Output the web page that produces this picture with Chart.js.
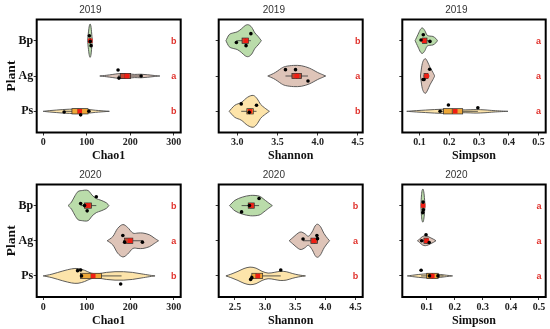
<!DOCTYPE html>
<html><head><meta charset="utf-8">
<script src="https://cdn.jsdelivr.net/npm/chart.js@4/dist/chart.umd.min.js"></script>
<style>
body{margin:0;background:#fff;width:550px;height:329px;overflow:hidden;position:relative}
canvas{position:absolute}
</style></head><body>
<canvas id="c1"></canvas><canvas id="c2"></canvas><canvas id="c3"></canvas>
<canvas id="c4"></canvas><canvas id="c5"></canvas><canvas id="c6"></canvas>
<script>
// ---------------- DATA ----------------
const plants = ['Bp', 'Ag', 'Ps'];
const years = ['2019', '2020'];
const metrics = ['Chao1', 'Shannon', 'Simpson'];

const chao1Ticks = [0, 100, 200, 300];
const shannon2019Ticks = [3.0, 3.5, 4.0, 4.5];
const shannon2020Ticks = [2.5, 3.0, 3.5, 4.0, 4.5];
const simpsonTicks = [0.1, 0.2, 0.3, 0.4, 0.5];

// violin density profiles: [value, half-width in category units]
const chao1_2019_violin = [
  [[102,0],[104,0.25],[106,0.42],[108,0.47],[110,0.38],[112,0.12],[113,0]],
  [[130,0],[145,0.02],[160,0.045],[172,0.065],[185,0.07],[198,0.06],[210,0.045],[225,0.05],[240,0.035],[255,0.015],[268,0]],
  [[0,0],[15,0.02],[30,0.035],[45,0.05],[60,0.06],[75,0.065],[90,0.06],[105,0.05],[120,0.03],[135,0.015],[152,0]]
];
const chao1_2019_box = [[106,107,108,109,110],[172,177,188,201,225],[48,66,80,103,105]];
const chao1_2019_mean = [108, 192, 84];
const chao1_2019_dots = [[106,110,108],[172,174,225],[48,86,105]];
const chao1_2019_letters = ['b','a','b'];

const chao1_2020_violin = [
  [[57,0],[65,0.1],[73,0.28],[80,0.40],[90,0.43],[100,0.44],[106,0.4],[112,0.3],[122,0.2],[133,0.15],[145,0.08],[151,0]],
  [[147,0],[160,0.12],[171,0.35],[183,0.46],[194,0.38],[206,0.22],[218,0.22],[229,0.22],[244,0.17],[255,0.08],[265,0]],
  [[0,0],[20,0.05],[45,0.14],[65,0.2],[80,0.21],[95,0.16],[110,0.08],[125,0.06],[145,0.1],[165,0.12],[185,0.12],[205,0.1],[225,0.06],[245,0.02],[257,0]]
];
const chao1_2020_box = [[86,95,101,111,122],[184,187,197,206,228],[86,86,110,134,180]];
const chao1_2020_mean = [103, 200, 115];
const chao1_2020_dots = [[86,122,101,95],[183,187,228],[79,86,88,178]];
const chao1_2020_letters = ['b','a','b'];

const shannon_2019_violin = [
  [[2.86,0],[2.90,0.17],[2.95,0.22],[3.00,0.25],[3.05,0.33],[3.10,0.43],[3.14,0.45],[3.18,0.38],[3.22,0.22],[3.26,0.12],[3.30,0]],
  [[3.38,0],[3.45,0.07],[3.5,0.14],[3.55,0.22],[3.6,0.27],[3.7,0.30],[3.8,0.29],[3.9,0.22],[4.0,0.1],[4.05,0.05],[4.1,0]],
  [[2.90,0],[2.97,0.17],[3.05,0.25],[3.13,0.4],[3.20,0.45],[3.25,0.35],[3.29,0.2],[3.34,0.1],[3.40,0]]
];
const shannon_2019_box = [[2.99,3.06,3.10,3.14,3.17],[3.60,3.68,3.74,3.80,3.88],[3.05,3.12,3.16,3.20,3.24]];
const shannon_2019_mean = [3.11, 3.74, 3.16];
const shannon_2019_dots = [[2.99,3.17,3.11],[3.60,3.725,3.88],[3.05,3.24,3.15]];
const shannon_2019_letters = ['b','a','b'];

const shannon_2020_violin = [
  [[2.41,0],[2.50,0.15],[2.62,0.24],[2.76,0.29],[2.90,0.27],[2.98,0.18],[3.04,0.1],[3.12,0]],
  [[3.40,0],[3.48,0.12],[3.55,0.22],[3.60,0.25],[3.66,0.2],[3.72,0.13],[3.78,0.25],[3.83,0.42],[3.87,0.47],[3.92,0.4],[3.98,0.2],[4.04,0.06],[4.07,0]],
  [[2.35,0],[2.45,0.06],[2.55,0.13],[2.65,0.21],[2.75,0.25],[2.85,0.22],[2.95,0.13],[3.05,0.08],[3.15,0.1],[3.25,0.13],[3.35,0.12],[3.45,0.07],[3.55,0.03],[3.67,0]]
];
const shannon_2020_box = [[2.61,2.72,2.76,2.82,2.90],[3.63,3.76,3.82,3.87,3.87],[2.76,2.78,2.85,2.96,3.26]];
const shannon_2020_mean = [2.77, 3.81, 2.88];
const shannon_2020_dots = [[2.61,2.90,2.74],[3.63,3.86,3.87],[3.26,2.76,2.78]];
const shannon_2020_letters = ['b','a','b'];

const simpson_2019_violin = [
  [[0.085,0],[0.095,0.18],[0.103,0.32],[0.11,0.36],[0.118,0.28],[0.125,0.16],[0.135,0.13],[0.145,0.12],[0.155,0.06],[0.16,0]],
  [[0.103,0],[0.108,0.3],[0.113,0.44],[0.12,0.49],[0.127,0.4],[0.135,0.25],[0.145,0.1],[0.151,0]],
  [[0.057,0],[0.09,0.02],[0.12,0.035],[0.15,0.05],[0.18,0.06],[0.21,0.05],[0.24,0.04],[0.27,0.045],[0.29,0.05],[0.32,0.04],[0.35,0.02],[0.397,0]]
];
const simpson_2019_box = [[0.105,0.11,0.115,0.125,0.135],[0.112,0.115,0.12,0.128,0.134],[0.169,0.18,0.21,0.245,0.296]];
const simpson_2019_mean = [0.115, 0.124, 0.22];
const simpson_2019_dots = [[0.1125,0.105,0.135],[0.134,0.115,0.112],[0.197,0.296,0.169]];
const simpson_2019_letters = ['a','a','a'];

const simpson_2020_violin = [
  [[0.079,0],[0.082,0.35],[0.085,0.46],[0.088,0.45],[0.091,0.3],[0.094,0]],
  [[0.067,0],[0.075,0.05],[0.085,0.12],[0.095,0.14],[0.105,0.12],[0.115,0.08],[0.125,0.04],[0.133,0]],
  [[0.031,0],[0.05,0.02],[0.07,0.04],[0.09,0.055],[0.11,0.06],[0.13,0.055],[0.15,0.04],[0.17,0.02],[0.192,0]]
];
const simpson_2020_box = [[0.085,0.086,0.087,0.088,0.089],[0.082,0.09,0.1,0.105,0.109],[0.08,0.1,0.12,0.141,0.16]];
const simpson_2020_mean = [0.087, 0.1, 0.12];
const simpson_2020_dots = [[0.087,0.088,0.086],[0.0975,0.082,0.109],[0.08,0.11,0.14]];
const simpson_2020_letters = ['a','a','a'];

// vertical jitter of the dots (layout, category units)
const jitter_c1 = [[-0.14,0.14,0.02],[-0.17,0.06,0.0],[0.02,0.1,0.0]];
const jitter_c4 = [[-0.06,-0.25,0.15,0.0],[-0.15,0.04,0.04],[-0.15,-0.17,0.0,0.23]];
const jitter_c2 = [[0.05,-0.2,0.14],[-0.18,-0.18,0.14],[-0.21,-0.17,0.03]];
const jitter_c5 = [[0.18,-0.2,0.0],[-0.05,-0.15,-0.06],[-0.17,0.1,0.05]];
const jitter_c3 = [[-0.17,-0.02,0.02],[-0.19,0.1,0.1],[-0.18,-0.1,0.0]];
const jitter_c6 = [[-0.1,0.12,0.2],[-0.17,0.0,0.05],[-0.16,0.0,0.0]];

// ---------------- STYLE ----------------
const violinFill = ['#badcaa', '#dec4b8', '#fde4aa'];
const boxFill = ['#d2452e', '#bf4630', '#eea737'];
const letterColor = '#e0302a';
const serif = '"Liberation Serif", "Times New Roman", serif';
const sans = '"Liberation Sans", Arial, sans-serif';

function splinePath(ctx, pts, first) {
  const n = pts.length;
  if (first) ctx.moveTo(pts[0][0], pts[0][1]); else ctx.lineTo(pts[0][0], pts[0][1]);
  for (let i = 0; i < n - 1; i++) {
    const p0 = pts[Math.max(i - 1, 0)], p1 = pts[i], p2 = pts[i + 1], p3 = pts[Math.min(i + 2, n - 1)];
    const c1x = p1[0] + (p2[0] - p0[0]) / 6, c1y = p1[1] + (p2[1] - p0[1]) / 6;
    const c2x = p2[0] - (p3[0] - p1[0]) / 6, c2y = p2[1] - (p3[1] - p1[1]) / 6;
    ctx.bezierCurveTo(c1x, c1y, c2x, c2y, p2[0], p2[1]);
  }
}

const violinPlugin = {
  id: 'violins',
  beforeDatasetsDraw(chart) {
    const o = chart.options.plugins.violins;
    const xs = chart.scales.x, ys = chart.scales.y, ctx = chart.ctx, a = chart.chartArea;
    ctx.save();
    ctx.beginPath(); ctx.rect(a.left, a.top, a.right - a.left, a.bottom - a.top); ctx.clip();
    o.violin.forEach((prof, i) => {
      const top = prof.map(([v, hw]) => [xs.getPixelForValue(v), ys.getPixelForValue(i - hw)]);
      const bot = prof.map(([v, hw]) => [xs.getPixelForValue(v), ys.getPixelForValue(i + hw)]).reverse();
      ctx.beginPath();
      splinePath(ctx, top, true);
      splinePath(ctx, bot, false);
      ctx.closePath();
      ctx.fillStyle = violinFill[i]; ctx.fill();
      ctx.strokeStyle = '#4d4d4d'; ctx.lineWidth = 0.9; ctx.stroke();
    });
    o.box.forEach((b, i) => {
      const [lo, q1, med, q3, hi] = b;
      const yc = ys.getPixelForValue(i);
      ctx.beginPath();
      ctx.moveTo(xs.getPixelForValue(lo), yc); ctx.lineTo(xs.getPixelForValue(hi), yc);
      ctx.strokeStyle = '#333'; ctx.lineWidth = 0.8; ctx.stroke();
      const yt = ys.getPixelForValue(i - 0.075), yb = ys.getPixelForValue(i + 0.075);
      const x1 = xs.getPixelForValue(q1), x2 = xs.getPixelForValue(q3);
      ctx.fillStyle = boxFill[i];
      ctx.fillRect(x1, Math.min(yt, yb), x2 - x1, Math.abs(yb - yt));
      ctx.strokeStyle = '#2a2a2a'; ctx.lineWidth = 0.7;
      ctx.strokeRect(x1, Math.min(yt, yb), x2 - x1, Math.abs(yb - yt));
      const xm = xs.getPixelForValue(med);
      ctx.beginPath(); ctx.moveTo(xm, yt); ctx.lineTo(xm, yb); ctx.stroke();
    });
    ctx.restore();
  },
  afterDatasetsDraw(chart) {
    const o = chart.options.plugins.violins;
    const xs = chart.scales.x, ys = chart.scales.y, ctx = chart.ctx, a = chart.chartArea;
    ctx.save();
    ctx.font = 'bold 9px ' + sans;
    ctx.fillStyle = letterColor; ctx.textAlign = 'center'; ctx.textBaseline = 'middle';
    o.letters.forEach((l, i) => ctx.fillText(l, xs.getPixelForValue(o.letterX), ys.getPixelForValue(i) + 0.5));
    ctx.strokeStyle = '#000'; ctx.lineWidth = 2;
    ctx.strokeRect(a.left, a.top, a.right - a.left, a.bottom - a.top);
    ctx.restore();
  }
};

const panels = [
  {id:'c1', col:0, row:0, year:years[0], metric:metrics[0], min:-15, max:316, ticks:chao1Ticks, dec:0, violin:chao1_2019_violin, box:chao1_2019_box, mean:chao1_2019_mean, dots:chao1_2019_dots, jit:jitter_c1, letters:chao1_2019_letters, letterX:300},
  {id:'c2', col:1, row:0, year:years[0], metric:metrics[1], min:2.77, max:4.56, ticks:shannon2019Ticks, dec:1, violin:shannon_2019_violin, box:shannon_2019_box, mean:shannon_2019_mean, dots:shannon_2019_dots, jit:jitter_c2, letters:shannon_2019_letters, letterX:4.5},
  {id:'c3', col:2, row:0, year:years[0], metric:metrics[2], min:0.042, max:0.524, ticks:simpsonTicks, dec:1, violin:simpson_2019_violin, box:simpson_2019_box, mean:simpson_2019_mean, dots:simpson_2019_dots, jit:jitter_c3, letters:simpson_2019_letters, letterX:0.5},
  {id:'c4', col:0, row:1, year:years[1], metric:metrics[0], min:-15, max:316, ticks:chao1Ticks, dec:0, violin:chao1_2020_violin, box:chao1_2020_box, mean:chao1_2020_mean, dots:chao1_2020_dots, jit:jitter_c4, letters:chao1_2020_letters, letterX:300},
  {id:'c5', col:1, row:1, year:years[1], metric:metrics[1], min:2.23, max:4.62, ticks:shannon2020Ticks, dec:1, violin:shannon_2020_violin, box:shannon_2020_box, mean:shannon_2020_mean, dots:shannon_2020_dots, jit:jitter_c5, letters:shannon_2020_letters, letterX:4.5},
  {id:'c6', col:2, row:1, year:years[1], metric:metrics[2], min:0.013, max:0.524, ticks:simpsonTicks, dec:1, violin:simpson_2020_violin, box:simpson_2020_box, mean:simpson_2020_mean, dots:simpson_2020_dots, jit:jitter_c6, letters:simpson_2020_letters, letterX:0.5}
];

const colLeft = [0, 185, 367], colWidth = [185, 182, 183], yAxisW = [36.7, 33.7, 35.3];
const rowTop = [0, 165], rowHeight = [165, 164], xAxisH = [32.5, 32], xTitlePad = [1.8, 0.8];

panels.forEach(p => {
  const cv = document.getElementById(p.id);
  cv.width = colWidth[p.col]; cv.height = rowHeight[p.row];
  cv.style.left = colLeft[p.col] + 'px'; cv.style.top = rowTop[p.row] + 'px';
  cv.style.width = colWidth[p.col] + 'px'; cv.style.height = rowHeight[p.row] + 'px';
  const dotData = [], meanData = [];
  p.dots.forEach((arr, i) => arr.forEach((v, k) => dotData.push({x: v, y: i + p.jit[i][k]})));
  p.mean.forEach((v, i) => meanData.push({x: v, y: i}));
  new Chart(cv, {
    type: 'scatter',
    data: { datasets: [
      { data: dotData, pointRadius: 1.8, pointBackgroundColor: '#000', pointBorderWidth: 0, showLine: false },
      { data: meanData, pointStyle: 'rect', pointRadius: 3.2, pointBackgroundColor: '#f01e14', pointBorderWidth: 0, showLine: false }
    ]},
    options: {
      responsive: false, animation: false, devicePixelRatio: 1,
      layout: { padding: { left: 0, right: 4.3, top: 0, bottom: 0 } },
      plugins: {
        legend: { display: false }, tooltip: { enabled: false },
        title: { display: true, text: p.year, color: '#333', font: { family: sans, size: 10, weight: 'normal', lineHeight: 1.2 }, padding: { top: 4, bottom: 3.5 } },
        violins: { violin: p.violin, box: p.box, letters: p.letters, letterX: p.letterX }
      },
      scales: {
        x: {
          type: 'linear', min: p.min, max: p.max, position: 'bottom',
          afterBuildTicks: s => { s.ticks = p.ticks.map(v => ({ value: v })); },
          afterFit: s => { s.height = xAxisH[p.row]; },
          grid: { display: true, drawOnChartArea: false, drawTicks: true, tickLength: 3, color: '#333', lineWidth: 1 },
          border: { display: false },
          ticks: { color: '#222', padding: 1, maxRotation: 0, autoSkip: false, font: { family: serif, size: 10, weight: 'bold' }, callback: v => v.toFixed(p.dec) },
          title: { display: true, text: p.metric, color: '#111', font: { family: serif, size: 12, weight: 'bold', lineHeight: 1.2 }, padding: { top: 0, bottom: xTitlePad[p.row] } }
        },
        y: {
          type: 'linear', min: -0.6, max: 2.6, reverse: true,
          afterBuildTicks: s => { s.ticks = [0, 1, 2].map(v => ({ value: v })); },
          afterFit: s => { s.width = yAxisW[p.col]; },
          grid: { display: true, drawOnChartArea: false, drawTicks: true, tickLength: 3, color: '#333', lineWidth: 1 },
          border: { display: false },
          ticks: { color: '#111', padding: 0.5, font: { family: serif, size: 12, weight: 'bold' }, callback: v => p.col === 0 ? plants[v] : '' },
          title: { display: p.col === 0, text: 'Plant', color: '#111', font: { family: serif, size: 13.5, weight: 'bold', lineHeight: 1.2 }, padding: { top: 3.6, bottom: 0 } }
        }
      }
    },
    plugins: [violinPlugin]
  });
});
</script>
</body></html>
